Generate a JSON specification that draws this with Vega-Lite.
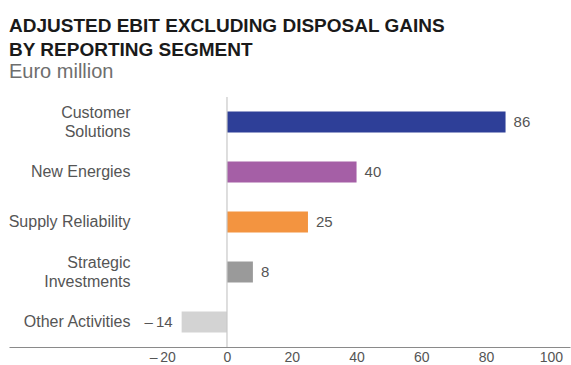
{
  "$schema": "https://vega.github.io/schema/vega-lite/v6.json",
  "autosize": {"type": "none"},
  "width": 561,
  "height": 250,
  "padding": {"left": 9, "top": 97, "right": 1, "bottom": 18},
  "background": "white",
  "title": {
    "text": ["ADJUSTED EBIT EXCLUDING DISPOSAL GAINS", "BY REPORTING SEGMENT"],
    "subtitle": "Euro million",
    "anchor": "start",
    "frame": "group",
    "font": "Liberation Sans",
    "fontSize": 19,
    "fontWeight": "bold",
    "color": "#1a1a1a",
    "lineHeight": 24,
    "subtitleFont": "Liberation Sans",
    "subtitleFontSize": 20,
    "subtitleColor": "#6e6e6e",
    "subtitlePadding": 2,
    "offset": 14
  },
  "config": {
    "view": {"stroke": null},
    "font": "Liberation Sans"
  },
  "data": {
    "values": [
      {"segment": "Customer Solutions", "value": 86, "label": "86", "color": "#2E3F98"},
      {"segment": "New Energies", "value": 40, "label": "40", "color": "#A55FA6"},
      {"segment": "Supply Reliability", "value": 25, "label": "25", "color": "#F39440"},
      {"segment": "Strategic Investments", "value": 8, "label": "8", "color": "#9A9A9A"},
      {"segment": "Other Activities", "value": -14, "label": "–\u200914", "color": "#D3D3D3"}
    ]
  },
  "encoding": {
    "y": {
      "field": "segment",
      "type": "nominal",
      "sort": null,
      "scale": {"paddingInner": 0.6, "paddingOuter": 0.3},
      "axis": {
        "title": null,
        "ticks": false,
        "domain": false,
        "labelPadding": -121,
        "labelAlign": "right",
        "labelFontSize": 16,
        "labelColor": "#555555",
        "labelFont": "Liberation Sans",
        "labelLineHeight": 19,
        "labelOffset": {"condition": {"test": "datum.value == 'Customer Solutions' || datum.value == 'Strategic Investments'", "value": -9}, "value": 0},
        "labelExpr": "datum.label == 'Customer Solutions' ? ['Customer', 'Solutions'] : datum.label == 'Strategic Investments' ? ['Strategic', 'Investments'] : datum.label"
      }
    }
  },
  "layer": [
    {
      "mark": {"type": "bar", "height": 21},
      "encoding": {
        "x": {
          "field": "value",
          "type": "quantitative",
          "scale": {"domain": [-67.3, 105.9], "nice": false, "zero": false},
          "axis": {
            "title": null,
            "values": [-20, 0, 20, 40, 60, 80, 100],
            "grid": false,
            "ticks": false,
            "domainColor": "#8a8a8a",
            "domainWidth": 1.2,
            "labelFontSize": 14,
            "labelColor": "#555555",
            "labelPadding": 3,
            "labelExpr": "datum.value < 0 ? '–\u2009' + abs(datum.value) : datum.label"
          }
        },
        "color": {"field": "color", "type": "nominal", "scale": null}
      }
    },
    {
      "mark": {"type": "rule", "color": "#c8c8c8", "strokeWidth": 1.2},
      "data": {"values": [{"z": 0}]},
      "encoding": {"x": {"field": "z", "type": "quantitative"}, "y": {"value": 0}, "y2": {"value": 250}}
    },
    {
      "transform": [{"filter": "datum.value >= 0"}],
      "mark": {"type": "text", "align": "left", "dx": 8, "fontSize": 15, "color": "#555555", "baseline": "middle"},
      "encoding": {"x": {"field": "value", "type": "quantitative"}, "text": {"field": "label"}}
    },
    {
      "transform": [{"filter": "datum.value < 0"}],
      "mark": {"type": "text", "align": "right", "dx": -9, "fontSize": 15, "color": "#555555", "baseline": "middle"},
      "encoding": {"x": {"field": "value", "type": "quantitative"}, "text": {"field": "label"}}
    }
  ]
}
